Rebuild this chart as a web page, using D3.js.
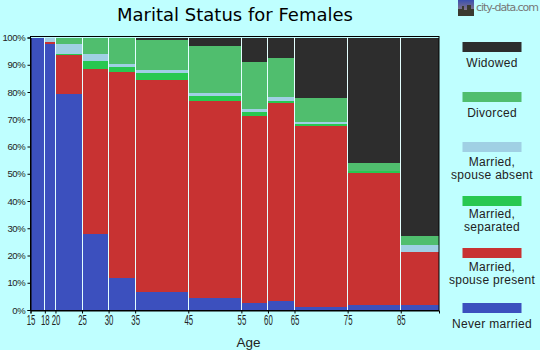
<!DOCTYPE html>
<html>
<head>
<meta charset="utf-8">
<script src="https://cdn.jsdelivr.net/npm/d3@7"></script>
<style>
html, body { margin: 0; padding: 0; background: #bfffff; }
svg { display: block; font-family: "Liberation Sans", Arial, sans-serif; }
</style>
</head>
<body>
<div id="chart"></div>
<script>
// bar edges in years, the first bar starts a bit after 15 in the original
const ageEdges = [15.3, 18, 20, 25, 30, 35, 45, 55, 60, 65, 75, 85, 92.2];
const ageLabels = ["15", "18", "20", "25", "30", "35", "45", "55", "60", "65", "75", "85"];
const percentTicks = [0, 10, 20, 30, 40, 50, 60, 70, 80, 90, 100];

const neverMarried = [100, 97.5, 79.3, 27.9, 11.8, 6.7, 4.5, 2.6, 3.3, 1.2, 1.8, 1.8];
const spousePresent = [0, 0.8, 14.2, 60.5, 75.6, 77.6, 72.1, 68.5, 72.6, 66.3, 48.3, 19.5];
const separated = [0, 0, 0.4, 2.9, 1.7, 2.6, 1.9, 1.5, 0.7, 0.7, 0.8, 0];
const spouseAbsent = [0, 1.7, 3.6, 2.6, 1.1, 1.1, 1.1, 1.1, 1.5, 0.7, 0.1, 2.5];
const divorced = [0, 0, 2.5, 6.1, 9.8, 11, 17.2, 17.2, 14.3, 8.8, 2.9, 3.3];
const widowed = [0, 0, 0, 0, 0, 1, 3.2, 9.1, 7.6, 22.3, 46.1, 72.9];

const seriesValues = [neverMarried, spousePresent, separated, spouseAbsent, divorced, widowed];
const seriesColors = ["#3c50be", "#c83232", "#28c850", "#a0d0e4", "#50be6e", "#2d2d2d"];
const seriesLabels = [
  ["Never married"],
  ["Married,", "spouse present"],
  ["Married,", "separated"],
  ["Married,", "spouse absent"],
  ["Divorced"],
  ["Widowed"]
];

const width = 540, height = 350;

const svg = d3.select("#chart").append("svg")
  .attr("width", width)
  .attr("height", height);

const x = d3.scaleLinear().domain([15.3, 92.2]).range([30.5, 439]);
const y = d3.scaleLinear().domain([0, 100]).range([310, 37.5]);

// stack the series per age group
const rows = ageLabels.map((a, i) => {
  const row = {i: i};
  seriesValues.forEach((s, k) => { row[k] = s[i]; });
  return row;
});
const stacked = d3.stack().keys(seriesValues.map((s, k) => k))(rows);

svg.append("g").selectAll("g")
  .data(stacked)
  .enter().append("g")
    .attr("fill", (d, k) => seriesColors[k])
  .selectAll("rect")
  .data(d => d)
  .enter().append("rect")
    .attr("x", d => x(ageEdges[d.data.i]))
    .attr("width", d => x(ageEdges[d.data.i + 1]) - x(ageEdges[d.data.i]))
    .attr("y", d => y(d[1]))
    .attr("height", d => y(d[0]) - y(d[1]))
    .attr("shape-rendering", "crispEdges");

// pale separators between the age groups
svg.append("g").selectAll("line")
  .data(ageEdges.slice(1, -1))
  .enter().append("line")
    .attr("x1", d => Math.floor(x(d)) + 0.5)
    .attr("x2", d => Math.floor(x(d)) + 0.5)
    .attr("y1", y(100))
    .attr("y2", y(0))
    .attr("stroke", "#e4ffff");

// frame
svg.append("rect")
  .attr("x", 30.5)
  .attr("y", 36.5)
  .attr("width", 408.5)
  .attr("height", 274)
  .attr("fill", "none")
  .attr("stroke", "#000")
  .attr("stroke-width", 1);

// axes
const xAxis = svg.append("g")
  .attr("transform", "translate(0,310.5)")
  .call(d3.axisBottom(x)
    .tickValues(ageEdges.slice(0, -1))
    .tickFormat((d, i) => ageLabels[i])
    .tickSize(3));

const yAxis = svg.append("g")
  .attr("transform", "translate(30.5,0)")
  .call(d3.axisLeft(y)
    .tickValues(percentTicks)
    .tickFormat(d => d + "%")
    .tickSize(3)
    .tickPadding(2));

svg.selectAll(".domain").attr("stroke", "#000");

// the original digits are tall and squeezed
xAxis.selectAll("text")
  .attr("y", 15)
  .attr("dy", 0)
  .attr("transform", "scale(0.52,1)")
  .style("font-size", "15px")
  .attr("fill", "#222");
yAxis.selectAll("text")
  .style("font-size", "9.5px")
  .style("letter-spacing", "-0.3px")
  .attr("fill", "#222");

// title and axis name
svg.append("text")
  .attr("x", 235)
  .attr("y", 21)
  .attr("text-anchor", "middle")
  .attr("textLength", 236)
  .style("font-size", "18px")
  .style("font-family", "DejaVu Sans")
  .attr("fill", "#000")
  .text("Marital Status for Females");

svg.append("text")
  .attr("x", 248.5)
  .attr("y", 347)
  .attr("text-anchor", "middle")
  .style("font-size", "13.5px")
  .attr("fill", "#222")
  .text("Age");

// legend, bottom entry first
const legendTops = [303, 248, 196, 142, 92, 42];
const legendBaselines = [25, 23, 22, 24, 25, 25];
const legend = svg.append("g").selectAll("g")
  .data(seriesLabels)
  .enter().append("g")
    .attr("transform", (d, k) => `translate(492,${legendTops[k]})`);

legend.append("rect")
  .attr("x", -29.5)
  .attr("width", 59)
  .attr("height", 10)
  .attr("fill", (d, k) => seriesColors[k]);

legend.each(function(d, k) {
  d3.select(this).selectAll("text")
    .data(d)
    .enter().append("text")
      .attr("y", (t, i) => legendBaselines[k] + i * 12.5)
      .attr("text-anchor", "middle")
      .style("font-size", "12px")
      .style("letter-spacing", "0.3px")
      .attr("fill", "#222")
      .text(t => t);
});

// city-data.com mark
const gradient = svg.append("defs").append("linearGradient")
  .attr("id", "sky")
  .attr("x1", 0).attr("x2", 0).attr("y1", 0).attr("y2", 1);
gradient.append("stop").attr("offset", "0").attr("stop-color", "#3a4fb0");
gradient.append("stop").attr("offset", "1").attr("stop-color", "#b08a70");

svg.append("rect")
  .attr("x", 458).attr("y", 0).attr("width", 16).attr("height", 16)
  .attr("fill", "url(#sky)");
svg.append("path")
  .attr("d", "M458,16V9H462V6H464V10H467V5H471V9H474V16Z")
  .attr("fill", "#3a3a30");

svg.append("text")
  .attr("x", 476)
  .attr("y", 11)
  .style("font-size", "11px")
  .style("font-family", "DejaVu Sans")
  .attr("textLength", 63)
  .attr("fill", "#777")
  .text("city-data.com");
</script>
</body>
</html>
